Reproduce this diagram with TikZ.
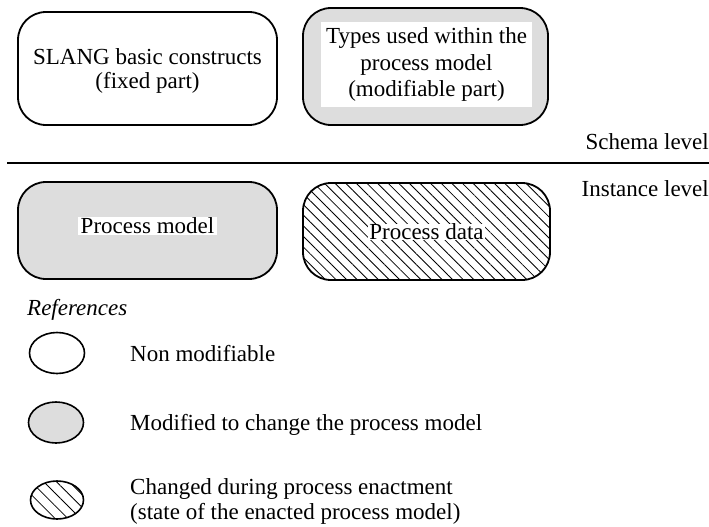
\documentclass[tikz,border=0pt]{standalone}
\usepackage{fontspec}
\setmainfont{Liberation Serif}
\usetikzlibrary{shapes.geometric,patterns.meta}
\definecolor{modgray}{RGB}{221,221,221}
\begin{document}
\begin{tikzpicture}[x=1pt,y=-1pt,
  every node/.style={font=\fontsize{23}{27}\selectfont},
  part/.style={draw, line width=1.8pt, rounded corners=28pt, inner sep=0pt},
  fixedpart/.style={part, fill=white},
  modpart/.style={part, fill=modgray},
  runpart/.style={part, pattern={Lines[angle=-45,distance=7.5pt,line width=0.85pt]}},
  plate/.style={fill=white, inner xsep=3pt, inner ysep=1pt, align=center},
  legendmark/.style={ellipse, draw, line width=1.6pt, minimum width=55pt, minimum height=41pt, inner sep=0pt},
  legendtext/.style={anchor=base west, inner sep=0pt, align=left},
  levelname/.style={anchor=base east, inner sep=0pt}
]
\useasboundingbox (0,0) rectangle (709,527);

% schema level
\node[fixedpart, minimum width=259pt, minimum height=113pt] (slang) at (147.5,68.5) {};
\node[align=center, inner sep=0pt, font=\fontsize{23}{24}\selectfont] (slangtext) at (147.5,70.5)
  {SLANG basic constructs\\(fixed part)};
\node[modpart, minimum width=245pt, minimum height=117pt] (types) at (425.5,66.5) {};
\node[plate, inner xsep=5pt, inner ysep=5.5pt, font=\fontsize{23}{26.5}\selectfont] (typestext) at (426.5,64.5)
  {Types used within the\\process model\\(modifiable part)};

% level separator
\coordinate (ruleL) at (7,163);
\coordinate (ruleR) at (709,163);
\draw[line width=2.5pt] (ruleL) -- (ruleR);
\node[levelname] (schema) at (709,149) {Schema level};
\node[levelname] (instance) at (709,196) {Instance level};

% instance level
\node[modpart, minimum width=259pt, minimum height=97pt] (model) at (147.5,230.5) {};
\node[plate] (modeltext) at (147.5,226) {Process model};
\node[runpart, minimum width=247pt, minimum height=97pt] (data) at (426.5,231.5) {};
\node[plate, inner xsep=1pt, inner ysep=0pt] (datatext) at (426.5,232) {Process data};

% legend
\node[anchor=west, inner sep=0pt, font=\fontsize{23}{27}\selectfont\itshape] (refs) at (27,310) {References};
\node[legendmark, fill=white] (markA) at (57,353) {};
\node[legendtext] (textA) at (130,361) {Non modifiable};
\node[legendmark, fill=modgray] (markB) at (56,422.5) {};
\node[legendtext] (textB) at (130,430.5) {Modified to change the process model};
\node[legendmark, minimum width=53pt, minimum height=38pt,
      pattern={Lines[angle=-45,distance=9pt,line width=0.85pt]}] (markC) at (57,500) {};
% base anchor of a multi-line node sits on its last line
\node[legendtext, font=\fontsize{23}{25}\selectfont] (textC) at (130,519)
  {Changed during process enactment\\(state of the enacted process model)};
\end{tikzpicture}
\end{document}
